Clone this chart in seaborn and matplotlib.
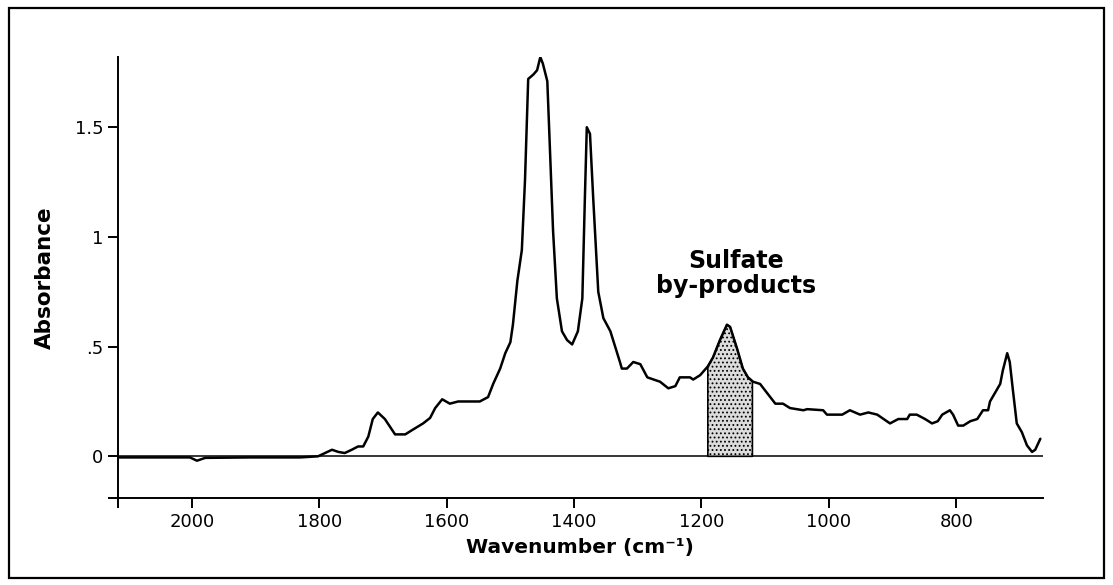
import matplotlib

matplotlib.use("Agg")
import matplotlib.pyplot as plt
import numpy as np
import pandas as pd
import seaborn as sns
from matplotlib.patches import Rectangle

# Спектр (wavenumber, absorbance)
wavenumber = [
    2116, 2050, 2003, 1992, 1979, 1909, 1830, 1802, 1780, 1770, 1760, 1749,
    1739, 1731, 1723, 1716, 1708, 1697, 1681, 1665, 1654, 1637, 1626, 1618,
    1607, 1595, 1582, 1548, 1535, 1527, 1516, 1508, 1500, 1496, 1489, 1482,
    1477, 1472, 1464, 1458, 1453, 1449, 1442, 1438, 1433, 1427, 1419, 1411,
    1403, 1394, 1387, 1383, 1380, 1375, 1370, 1362, 1354, 1343, 1328, 1325,
    1317, 1307, 1296, 1285, 1265, 1252, 1241, 1234, 1218, 1213, 1202, 1190,
    1182, 1171, 1160, 1155, 1144, 1135, 1127, 1119, 1108, 1084, 1072, 1061,
    1040, 1034, 1009, 1003, 979, 967, 951, 938, 924, 904, 891, 877, 873, 862,
    849, 838, 829, 822, 810, 805, 797, 789, 778, 767, 758, 750, 747, 731, 727,
    720, 716, 711, 705, 697, 689, 681, 676, 668,
]
absorbance = [
    -0.005, -0.005, -0.005, -0.02, -0.007, -0.005, -0.005, 0.0, 0.03, 0.02,
    0.015, 0.03, 0.045, 0.045, 0.09, 0.17, 0.20, 0.17, 0.10, 0.10, 0.12, 0.15,
    0.175, 0.22, 0.26, 0.24, 0.25, 0.25, 0.27, 0.33, 0.40, 0.47, 0.52, 0.60,
    0.80, 0.94, 1.26, 1.72, 1.74, 1.76, 1.82, 1.79, 1.71, 1.41, 1.03, 0.72,
    0.57, 0.53, 0.51, 0.57, 0.72, 1.18, 1.50, 1.47, 1.18, 0.75, 0.63, 0.57,
    0.43, 0.40, 0.40, 0.43, 0.42, 0.36, 0.34, 0.31, 0.32, 0.36, 0.36, 0.35,
    0.37, 0.41, 0.45, 0.53, 0.60, 0.59, 0.49, 0.40, 0.36, 0.34, 0.33, 0.24,
    0.24, 0.22, 0.21, 0.215, 0.21, 0.19, 0.19, 0.21, 0.19, 0.20, 0.19, 0.15,
    0.17, 0.17, 0.19, 0.19, 0.17, 0.15, 0.16, 0.19, 0.21, 0.19, 0.14, 0.14,
    0.16, 0.17, 0.21, 0.21, 0.25, 0.33, 0.39, 0.47, 0.43, 0.30, 0.15, 0.11,
    0.05, 0.02, 0.03, 0.08,
]

x_ticks = [2000, 1800, 1600, 1400, 1200, 1000, 800]
y_ticks = [0, 0.5, 1, 1.5]
y_tick_labels = ["0", ".5", "1", "1.5"]
sulfate_band = (1190, 1120)
annotation = "Sulfate\nby-products"

X_LIM = (2116, 664)
Y_LIM = (-0.19, 1.82)


def main():
    sns.set_theme(style="white")
    plt.rcParams["font.family"] = ["DejaVu Sans"]
    plt.rcParams["text.color"] = "black"
    plt.rcParams["axes.labelcolor"] = "black"
    plt.rcParams["hatch.color"] = "#808080"
    plt.rcParams["hatch.linewidth"] = 0.8

    df = pd.DataFrame({"wavenumber": wavenumber, "absorbance": absorbance})

    fig = plt.figure(figsize=(11.13, 5.85), dpi=100)
    ax = fig.add_axes([0.106, 0.1487, 0.831, 0.7538])

    # Заштрихованная полоса сульфатов
    wn = np.array(wavenumber, dtype=float)
    ab = np.array(absorbance, dtype=float)
    hi, lo = sulfate_band
    mask = (wn < hi) & (wn > lo)
    band_x = np.concatenate([[hi], wn[mask], [lo]])
    band_y = np.concatenate(
        [[np.interp(hi, wn[::-1], ab[::-1])], ab[mask],
         [np.interp(lo, wn[::-1], ab[::-1])]]
    )
    ax.fill_between(
        band_x, 0, band_y, facecolor="#dcdcdc", edgecolor="black",
        hatch="....", linewidth=1.2, zorder=2,
    )

    ax.axhline(0, color="black", lw=1.1, zorder=1)
    sns.lineplot(
        data=df, x="wavenumber", y="absorbance", ax=ax, color="black",
        lw=1.8, sort=False, zorder=3,
    )

    ax.set_xlim(*X_LIM)
    ax.set_ylim(*Y_LIM)
    ax.set_xticks([X_LIM[0]] + x_ticks)
    ax.set_xticklabels([""] + [str(t) for t in x_ticks])
    ax.set_yticks([Y_LIM[0]] + y_ticks)
    ax.set_yticklabels([""] + y_tick_labels)
    ax.tick_params(
        axis="both", which="major", direction="out", length=7, width=1.4,
        labelsize=13, color="black", labelcolor="black", bottom=True, left=True,
    )

    for side in ("top", "right"):
        ax.spines[side].set_visible(False)
    for side in ("left", "bottom"):
        ax.spines[side].set_color("black")
        ax.spines[side].set_linewidth(1.4)

    ax.set_xlabel("Wavenumber (cm⁻¹)", fontsize=14.5, fontweight="bold",
                  labelpad=5)
    ax.set_ylabel("Absorbance", fontsize=15.5, fontweight="bold", labelpad=14)

    ax.text(1146, 0.835, annotation, ha="center", va="center", fontsize=17,
            fontweight="bold", linespacing=1.05)

    fig.patches.append(
        Rectangle((0.008, 0.012), 0.984, 0.975, transform=fig.transFigure,
                  fill=False, edgecolor="black", linewidth=1.6)
    )

    fig.savefig("out.png", dpi=100)
    plt.close(fig)


if __name__ == "__main__":
    main()
